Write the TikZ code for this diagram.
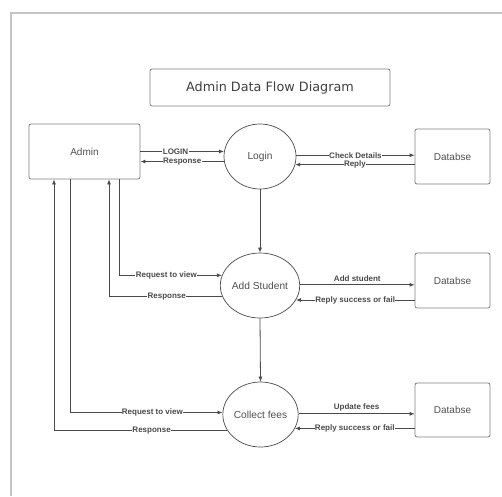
\documentclass[tikz,border=0pt]{standalone}
\usepackage{fontspec}
\setmainfont{Liberation Sans}
\newfontfamily\titlefont{DejaVu Sans}
\usetikzlibrary{shapes.geometric,arrows.meta}
\definecolor{lnc}{HTML}{4A4A4A}
\definecolor{bdc}{HTML}{808080}
\definecolor{txc}{HTML}{505050}
\definecolor{frc}{HTML}{C4C4C4}
\tikzset{
  box/.style={draw=bdc, line width=0.8pt, rounded corners=2pt, rectangle, inner sep=0pt,
    font=\fontsize{10}{12}\selectfont, text=txc},
  proc/.style={draw=lnc, line width=0.7pt, ellipse, inner sep=0pt,
    font=\fontsize{10.2}{12}\selectfont, text=txc},
  arr/.style={draw=lnc, line width=0.8pt, -{Latex[length=5pt,width=4pt]}},
  lbl/.style={font=\fontsize{8}{9}\selectfont\bfseries, text=lnc, fill=white, inner sep=0.4pt},
  lbltop/.style={font=\fontsize{8}{9}\selectfont\bfseries, text=lnc, inner sep=0.4pt}
}
\begin{document}
\begin{tikzpicture}[x=1pt,y=-1pt]
\useasboundingbox (0,0) rectangle (502,496);
\fill[white] (0,0) rectangle (502,496);
\draw[frc, line width=1.5pt] (11,496) -- (11,13) -- (502,13);

\node[box, minimum width=240pt, minimum height=37pt, font=\titlefont\fontsize{12.8}{15}\selectfont, text=black!75] (title) at (270,87.5) {Admin Data Flow Diagram};

\node[box, minimum width=111pt, minimum height=55pt] (admin) at (84.5,151.5) {Admin};
\node[proc, minimum width=72pt, minimum height=65pt] (login) at (260,156.5) {Login};
\node[proc, minimum width=74pt, minimum height=65pt] (addst) at (260,285.5) {Add Student};
\node[proc, minimum width=73pt, minimum height=65pt] (fees) at (260.5,414.5) {Collect fees};
\node[box, minimum width=75pt, minimum height=55pt] (db1) at (452.5,156.5) {Databse};
\node[box, minimum width=75pt, minimum height=55pt] (db2) at (452.5,280.5) {Databse};
\node[box, minimum width=75pt, minimum height=54pt] (db3) at (452.5,410) {Databse};

% Admin <-> Login
\draw[arr] (admin.east |- login.172) -- node[lbl, pos=0.42] {LOGIN} (login.172);
\draw[arr] (login.188) -- node[lbl, pos=0.5] {Response} (admin.east |- login.188);
% Login <-> Database
\draw[arr] (login.2) -- node[lbl, pos=0.5] {Check Details} (db1.west |- login.2);
\draw[arr] (db1.west |- login.347) -- node[lbl, pos=0.5] {Reply} (login.347);
% Login -> Add Student -> Collect fees
\draw[arr] (login.south) -- (addst.north);
\draw[arr] (addst.south) -- (fees.north);
% Admin <-> Add Student
\draw[arr] (admin.south -| 119,0) |- node[lbl, pos=0.73] {Request to view} (addst.165);
\draw[arr] (addst.196.7) -| node[lbl, pos=0.245] {Response} (admin.south -| 109,0);
% Add Student <-> Database
\draw[arr] (addst.1) -- node[lbltop, above=2pt, pos=0.5] {Add student} (db2.west |- addst.1);
\draw[arr] (db2.west |- addst.338) -- node[lbl, pos=0.5] {Reply success or fail} (addst.338);
% Admin <-> Collect fees
\draw[arr] (admin.south -| 70,0) |- node[lbl, pos=0.77] {Request to view} (fees.177.6);
\draw[arr] (fees.205.8) -| node[lbl, pos=0.218] {Response} (admin.south -| 54,0);
% Collect fees <-> Database
\draw[arr] (fees.1) -- node[lbltop, above=2pt, pos=0.5] {Update fees} (db3.west |- fees.1);
\draw[arr] (db3.west |- fees.338) -- node[lbl, pos=0.5] {Reply success or fail} (fees.338);
\end{tikzpicture}
\end{document}
